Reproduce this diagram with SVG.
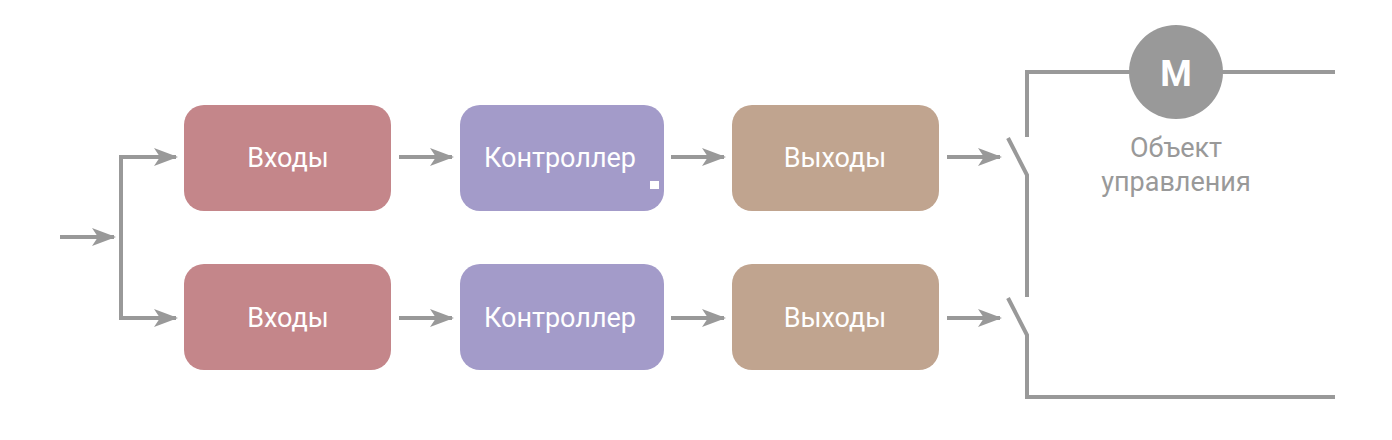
<svg xmlns="http://www.w3.org/2000/svg" width="1392" height="440" viewBox="0 0 1392 440">
<style>
.b{stroke:none}
.in{fill:#c4868a}.ct{fill:#a39bc9}.out{fill:#c0a48f}
.t{font-family:Roboto,"Liberation Sans",sans-serif;font-size:27px;fill:#fff;text-anchor:middle}
.w{fill:none;stroke:#999;stroke-width:4}
.g{font-family:Roboto,"Liberation Sans",sans-serif;font-size:27px;fill:#999;text-anchor:middle}
</style>
<defs><marker id="a" markerWidth="8" markerHeight="8" refX="6" refY="4" orient="auto" markerUnits="userSpaceOnUse" viewBox="0 0 8 8"><path d="M0,0 L8,4 L0,8 L2,4 Z" fill="#999" transform="scale(1)"/></marker>
<marker id="ah" markerWidth="24" markerHeight="20" refX="22" refY="10" orient="auto" markerUnits="userSpaceOnUse"><path d="M0,1 L24,10 L0,19 L6,10 Z" fill="#999"/></marker></defs>
<g id="connectors" class="w">
<line x1="60" y1="237" x2="114" y2="237" marker-end="url(#ah)"/>
<path d="M176,157 H121 V318 H176" marker-end="url(#ah)"/>
<path d="M121,157 H176" marker-end="url(#ah)"/>
<line x1="399" y1="157" x2="452" y2="157" marker-end="url(#ah)"/>
<line x1="671" y1="157" x2="724" y2="157" marker-end="url(#ah)"/>
<line x1="947" y1="157" x2="1000" y2="157" marker-end="url(#ah)"/>
<line x1="399" y1="318" x2="452" y2="318" marker-end="url(#ah)"/>
<line x1="671" y1="318" x2="724" y2="318" marker-end="url(#ah)"/>
<line x1="947" y1="318" x2="1000" y2="318" marker-end="url(#ah)"/>
<path d="M1335,72 H1027 V137"/>
<path d="M1008,138 L1027,175 V297"/>
<path d="M1008,298 L1027,335 V397 H1335"/>
</g>
<g id="in1"><rect class="in" x="184" y="105" width="207" height="106" rx="20"/><text class="t" x="288" y="167">Входы</text></g>
<g id="ctl1"><rect class="ct" x="460" y="105" width="204" height="106" rx="20"/><text class="t" x="560" y="167">Контроллер</text><rect x="650" y="181" width="9" height="8" fill="#fff"/></g>
<g id="out1"><rect class="out" x="732" y="105" width="207" height="106" rx="20"/><text class="t" x="835" y="167">Выходы</text></g>
<g id="in2"><rect class="in" x="184" y="264" width="207" height="106" rx="20"/><text class="t" x="288" y="327">Входы</text></g>
<g id="ctl2"><rect class="ct" x="460" y="264" width="204" height="106" rx="20"/><text class="t" x="560" y="327">Контроллер</text></g>
<g id="out2"><rect class="out" x="732" y="264" width="207" height="106" rx="20"/><text class="t" x="835" y="327">Выходы</text></g>
<g id="motor"><circle cx="1176" cy="72" r="47" fill="#999"/><text x="1176" y="86" font-family="Roboto,'Liberation Sans',sans-serif" font-weight="bold" font-size="36" fill="#fff" text-anchor="middle">M</text>
<text class="g" x="1176" y="157">Объект</text><text class="g" x="1176" y="191">управления</text></g>
</svg>
